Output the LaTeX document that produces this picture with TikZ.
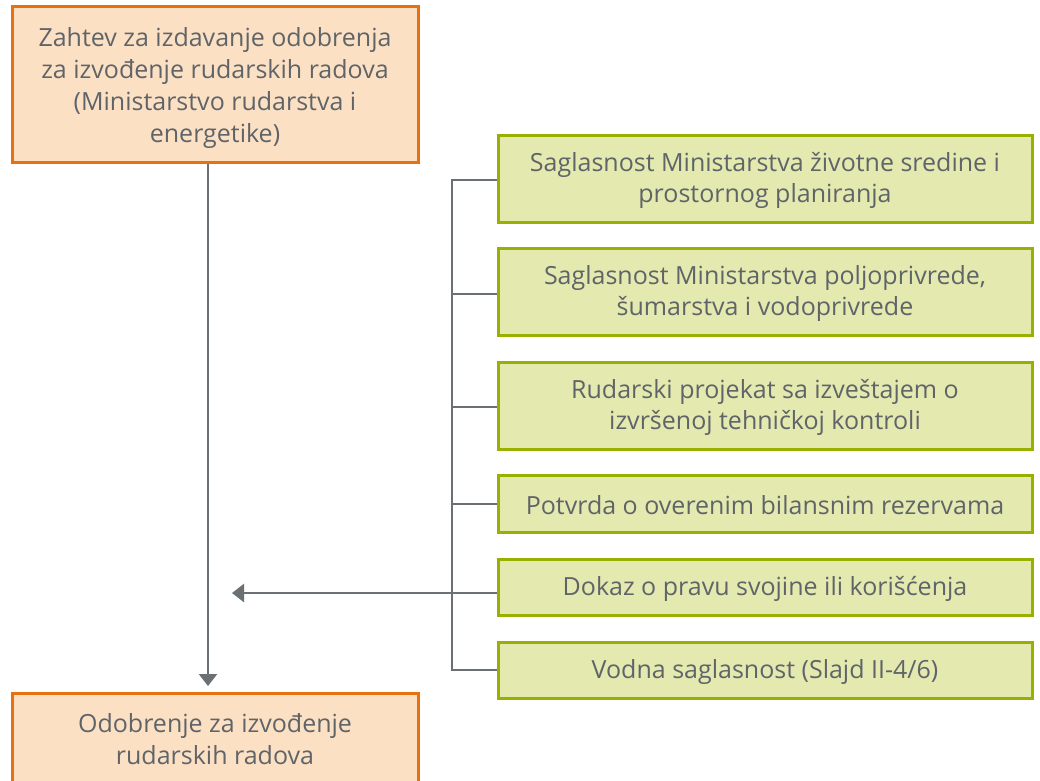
\documentclass[tikz,border=0pt]{standalone}
\usepackage{fontspec}
\setmainfont{Open Sans}
\usetikzlibrary{arrows.meta}
\definecolor{obord}{HTML}{E8700E}
\definecolor{ofill}{HTML}{FCE0C4}
\definecolor{gbord}{HTML}{9AB000}
\definecolor{gfill}{HTML}{E4E9B0}
\definecolor{txt}{HTML}{5F6468}
\definecolor{ln}{HTML}{6B7075}
\tikzset{
  obox/.style={draw=obord, fill=ofill, line width=3pt, minimum width=406pt, inner sep=0pt, align=center, text=txt, font=\fontsize{25}{32}\selectfont},
  gbox/.style={draw=gbord, fill=gfill, line width=3pt, minimum width=534pt, inner sep=0pt, align=center, text=txt, font=\fontsize{25}{31}\selectfont},
  conn/.style={draw=ln, line width=2.5pt},
  arr/.style={conn, -{Triangle[width=18pt,length=12pt]}}
}
\begin{document}
\begin{tikzpicture}[x=1pt,y=-1pt]
\useasboundingbox (0,0) rectangle (1040,780);
\fill[white] (0,0) rectangle (1040,780);
\begin{scope}
\clip (0,0) rectangle (1040,780);
\node[obox, minimum height=156pt] (req) at (215,84) {};
\node[text=txt, align=center, font=\fontsize{25}{32}\selectfont] (reqtxt) at (215,88) {Zahtev za izdavanje odobrenja\\za izvođenje rudarskih radova\\(Ministarstvo rudarstva i\\energetike)};
\node[obox, minimum height=130pt] (app) at (215,758) {};
\node[text=txt, align=center, font=\fontsize{25}{32}\selectfont] (apptxt) at (215,739) {Odobrenje za izvođenje\\rudarskih radova};
\end{scope}
\node[gbox, minimum height=87pt] (g1) at (765,178.5) {};
\node[gbox, minimum height=87pt] (g2) at (765,291.5) {};
\node[gbox, minimum height=87pt] (g3) at (765,405.5) {};
\node[gbox, minimum height=57pt] (g4) at (765,503.5) {};
\node[gbox, minimum height=56pt] (g5) at (765,587) {};
\node[gbox, minimum height=56pt] (g6) at (765,670) {};
\tikzset{gt/.style={text=txt, align=center, font=\fontsize{25}{31}\selectfont}}
\node[gt] (t1) at ([yshift=-2pt]g1.center) {Saglasnost Ministarstva životne sredine i\\prostornog planiranja};
\node[gt] (t2) at ([yshift=-2pt]g2.center) {Saglasnost Ministarstva poljoprivrede,\\šumarstva i vodoprivrede};
\node[gt] (t3) at ([yshift=-2pt]g3.center) {Rudarski projekat sa izveštajem o\\izvršenoj tehničkoj kontroli};
\node[gt] (t4) at ([yshift=-2pt]g4.center) {Potvrda o overenim bilansnim rezervama};
\node[gt] (t5) at ([yshift=-2pt]g5.center) {Dokaz o pravu svojine ili korišćenja};
\node[gt] (t6) at ([yshift=-2pt]g6.center) {Vodna saglasnost (Slajd II-4/6)};
\coordinate (bt) at (452,180);
\coordinate (bb) at (452,670);
\coordinate (tip) at (232,593);
\coordinate (dtip) at (208,686);
\draw[conn] (g1.west |- bt) -- (bt) -- (bb) -- (g6.west |- bb);
\draw[conn] (g2.west |- 0,294) -- (452,294);
\draw[conn] (g3.west |- 0,407) -- (452,407);
\draw[conn] (g4.west |- 0,504) -- (452,504);
\draw[arr] (g5.west |- tip) -- (tip);
\draw[arr] (req.south -| dtip) -- (dtip);
\end{tikzpicture}
\end{document}
